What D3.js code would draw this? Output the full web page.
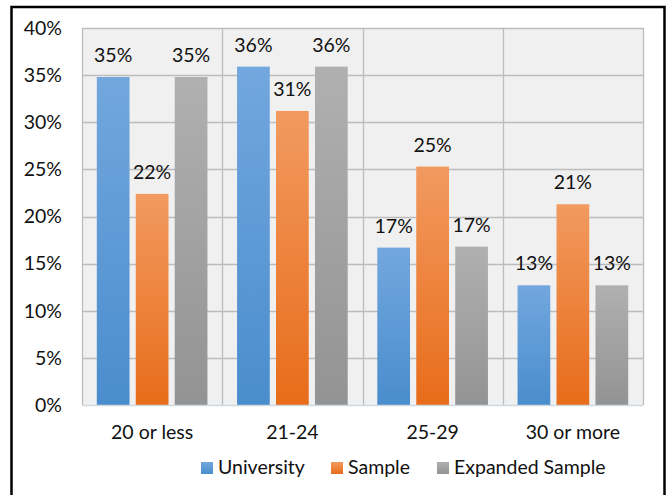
<!DOCTYPE html>
<html><head><meta charset="utf-8">
<script src="https://cdn.jsdelivr.net/npm/d3@7"></script>
<style>body{margin:0;background:#fff}svg{display:block}</style>
</head><body>
<svg id="c" width="670" height="495"></svg>
<script>
const categories = ["20 or less", "21-24", "25-29", "30 or more"];
const seriesNames = ["University", "Sample", "Expanded Sample"];
const university = [34.8, 35.9, 16.7, 12.7];
const sample = [22.4, 31.2, 25.3, 21.3];
const expanded = [34.8, 35.9, 16.8, 12.7];
const yTicks = [0, 5, 10, 15, 20, 25, 30, 35, 40];

const seriesValues = [university, sample, expanded];
const colors = [["#72a7de", "#4a8dcd"], ["#f29a60", "#e86c1a"], ["#b0b0b0", "#939393"]];
const font = "Lato, 'Open Sans', sans-serif";
const fs = 19.5;

const svg = d3.select("#c");
const defs = svg.append("defs");
colors.forEach((c, i) => {
  const g = defs.append("linearGradient").attr("id", "g" + i).attr("x1", 0).attr("y1", 0).attr("x2", 0).attr("y2", 1);
  g.append("stop").attr("offset", "0%").attr("stop-color", c[0]);
  g.append("stop").attr("offset", "100%").attr("stop-color", c[1]);
});

const L = 82, R = 643, T = 28, B = 405;
const x = d3.scaleBand().domain(categories).range([L, R]).paddingInner(0).paddingOuter(0);
const xs = d3.scaleBand().domain(seriesNames).range([0, x.bandwidth()]).paddingInner(0.16).paddingOuter(0.38);
const y = d3.scaleLinear().domain([0, 40]).range([B, T]);

// outer border
svg.append("rect").attr("x", 11.5).attr("y", 7).attr("width", 653).attr("height", 500)
  .attr("fill", "none").attr("stroke", "#000").attr("stroke-width", 2.5);

// plot bg
svg.append("rect").attr("x", L).attr("y", T).attr("width", R - L).attr("height", B - T).attr("fill", "#f0f0f0");

// grid
svg.append("g").selectAll("line").data(yTicks.filter(d => d > 0)).join("line")
  .attr("x1", L).attr("x2", R).attr("y1", d => Math.round(y(d)) + 0.5).attr("y2", d => Math.round(y(d)) + 0.5)
  .attr("stroke", "#bcbcbc").attr("stroke-width", 1.3);
const bounds = categories.map(c => x(c)).concat([R]);
svg.append("g").selectAll("line").data(bounds).join("line")
  .attr("x1", d => Math.round(d) + 0.5).attr("x2", d => Math.round(d) + 0.5).attr("y1", T).attr("y2", B)
  .attr("stroke", "#bcbcbc").attr("stroke-width", 1.3);

// bars
seriesNames.forEach((s, si) => {
  const g = svg.append("g");
  g.selectAll("rect").data(categories).join("rect")
    .attr("x", c => x(c) + xs(s)).attr("width", xs.bandwidth())
    .attr("y", (c, i) => y(seriesValues[si][i])).attr("height", (c, i) => B - y(seriesValues[si][i]))
    .attr("fill", `url(#g${si})`);
  g.selectAll("text").data(categories).join("text")
    .attr("x", c => x(c) + xs(s) + xs.bandwidth() / 2)
    .attr("y", (c, i) => y(seriesValues[si][i]) - 15)
    .attr("text-anchor", "middle").attr("font-family", font).attr("font-size", fs).attr("fill", "#111")
    .text((c, i) => Math.round(seriesValues[si][i]) + "%");
});

// x axis baseline
svg.append("line").attr("x1", L).attr("x2", R).attr("y1", B + 0.5).attr("y2", B + 0.5).attr("stroke", "#d0d8e0").attr("stroke-width", 1.5);

// y axis
const yAxis = d3.axisLeft(y).tickValues(yTicks).tickFormat(d => d + "%").tickSize(0).tickPadding(20);
const ya = svg.append("g").attr("transform", `translate(${L},0)`).call(yAxis);
ya.select(".domain").remove();
ya.selectAll("text").attr("font-family", font).attr("font-size", fs).attr("fill", "#111");

// x axis
const xAxis = d3.axisBottom(x).tickSize(0).tickPadding(20);
const xa = svg.append("g").attr("transform", `translate(0,${B})`).call(xAxis);
xa.select(".domain").remove();
xa.selectAll("text").attr("font-family", font).attr("font-size", fs).attr("fill", "#111");

// legend
const legX = [201, 331, 437];
const lg = svg.append("g");
seriesNames.forEach((s, i) => {
  lg.append("rect").attr("x", legX[i]).attr("y", 462).attr("width", 12).attr("height", 12).attr("fill", `url(#g${i})`);
  lg.append("text").attr("x", legX[i] + 17).attr("y", 474).attr("font-family", font).attr("font-size", fs).attr("fill", "#111").text(s);
});
</script>
</body></html>
